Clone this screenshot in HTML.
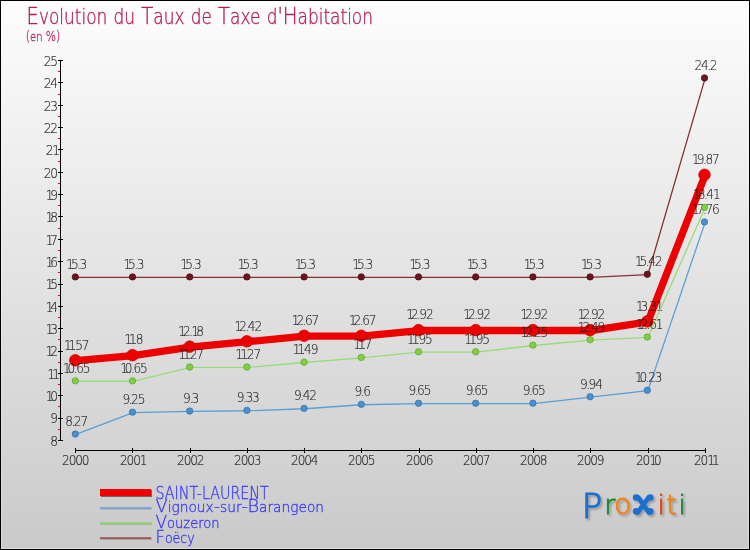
<!DOCTYPE html><html><head><meta charset="utf-8"><title>Evolution du Taux de Taxe d'Habitation</title><style>html,body{margin:0;padding:0;background:#fff}svg{display:block}text{font-family:"DejaVu Sans","Liberation Sans",sans-serif}</style></head><body>
<svg width="750" height="550" viewBox="0 0 750 550">
<defs><linearGradient id="bg" x1="0" y1="0" x2="0" y2="1"><stop offset="0" stop-color="#fdfdfd"/><stop offset="1" stop-color="#cacaca"/></linearGradient></defs>
<rect x="0" y="0" width="750" height="550" fill="#000"/>
<rect x="1" y="1" width="748" height="548" fill="url(#bg)"/>
<rect x="1.5" y="1.5" width="747" height="547" fill="none" stroke="#fff" stroke-opacity="0.3" stroke-width="1"/>
<text x="26.5" y="24" font-size="23.7" font-weight="200" fill="#b5205a" stroke="#b5205a" stroke-width="0.35" textLength="346.5" lengthAdjust="spacingAndGlyphs">E<tspan font-size="20.5">volution</tspan> <tspan font-size="20.5">du</tspan> T<tspan font-size="20.5">aux</tspan> <tspan font-size="20.5">de</tspan> T<tspan font-size="20.5">axe</tspan> <tspan font-size="20.5">d</tspan>&#39;H<tspan font-size="20.5">abitation</tspan></text>
<text x="25.8" y="40.6" font-size="13.5" font-weight="200" fill="#b82060" stroke="#b82060" stroke-width="0.3" textLength="34.5" lengthAdjust="spacingAndGlyphs">(<tspan font-size="12.5">en</tspan> %)</text>
<g shape-rendering="crispEdges">
<rect x="60" y="60" width="1" height="381" fill="#000"/>
<rect x="58" y="440" width="5" height="1" fill="#000"/>
<rect x="58" y="429" width="2" height="1" fill="#f00000"/>
<rect x="58" y="418" width="5" height="1" fill="#000"/>
<rect x="58" y="406" width="2" height="1" fill="#f00000"/>
<rect x="58" y="395" width="5" height="1" fill="#000"/>
<rect x="58" y="384" width="2" height="1" fill="#f00000"/>
<rect x="58" y="373" width="5" height="1" fill="#000"/>
<rect x="58" y="362" width="2" height="1" fill="#f00000"/>
<rect x="58" y="351" width="5" height="1" fill="#000"/>
<rect x="58" y="339" width="2" height="1" fill="#f00000"/>
<rect x="58" y="328" width="5" height="1" fill="#000"/>
<rect x="58" y="317" width="2" height="1" fill="#f00000"/>
<rect x="58" y="306" width="5" height="1" fill="#000"/>
<rect x="58" y="295" width="2" height="1" fill="#f00000"/>
<rect x="58" y="284" width="5" height="1" fill="#000"/>
<rect x="58" y="272" width="2" height="1" fill="#f00000"/>
<rect x="58" y="261" width="5" height="1" fill="#000"/>
<rect x="58" y="250" width="2" height="1" fill="#f00000"/>
<rect x="58" y="239" width="5" height="1" fill="#000"/>
<rect x="58" y="228" width="2" height="1" fill="#f00000"/>
<rect x="58" y="216" width="5" height="1" fill="#000"/>
<rect x="58" y="205" width="2" height="1" fill="#f00000"/>
<rect x="58" y="194" width="5" height="1" fill="#000"/>
<rect x="58" y="183" width="2" height="1" fill="#f00000"/>
<rect x="58" y="172" width="5" height="1" fill="#000"/>
<rect x="58" y="161" width="2" height="1" fill="#f00000"/>
<rect x="58" y="149" width="5" height="1" fill="#000"/>
<rect x="58" y="138" width="2" height="1" fill="#f00000"/>
<rect x="58" y="127" width="5" height="1" fill="#000"/>
<rect x="58" y="116" width="2" height="1" fill="#f00000"/>
<rect x="58" y="105" width="5" height="1" fill="#000"/>
<rect x="58" y="94" width="2" height="1" fill="#f00000"/>
<rect x="58" y="82" width="5" height="1" fill="#000"/>
<rect x="58" y="71" width="2" height="1" fill="#f00000"/>
<rect x="58" y="60" width="5" height="1" fill="#000"/>
<rect x="75" y="450" width="631" height="1" fill="#000"/>
<rect x="75" y="448" width="1" height="5" fill="#000"/>
<rect x="132" y="448" width="1" height="5" fill="#000"/>
<rect x="190" y="448" width="1" height="5" fill="#000"/>
<rect x="247" y="448" width="1" height="5" fill="#000"/>
<rect x="304" y="448" width="1" height="5" fill="#000"/>
<rect x="361" y="448" width="1" height="5" fill="#000"/>
<rect x="419" y="448" width="1" height="5" fill="#000"/>
<rect x="476" y="448" width="1" height="5" fill="#000"/>
<rect x="533" y="448" width="1" height="5" fill="#000"/>
<rect x="590" y="448" width="1" height="5" fill="#000"/>
<rect x="648" y="448" width="1" height="5" fill="#000"/>
<rect x="705" y="448" width="1" height="5" fill="#000"/>
</g>
<text transform="scale(0.92,1)" x="58.91" y="445.9" font-weight="200" font-size="13.2" text-anchor="middle" fill="#1a1a1a" stroke="#1a1a1a" stroke-width="0.15">8</text>
<text transform="scale(0.92,1)" x="58.91" y="423.5" font-weight="200" font-size="13.2" text-anchor="middle" fill="#1a1a1a" stroke="#1a1a1a" stroke-width="0.15">9</text>
<text transform="scale(0.92,1)" x="53.86 58.91" y="401.2" font-weight="200" font-size="13.2" text-anchor="middle" fill="#1a1a1a" stroke="#1a1a1a" stroke-width="0.15">10</text>
<text transform="scale(0.92,1)" x="55.92 61.03" y="378.8" font-weight="200" font-size="13.2" text-anchor="middle" fill="#1a1a1a" stroke="#1a1a1a" stroke-width="0.15">11</text>
<text transform="scale(0.92,1)" x="53.86 58.91" y="356.5" font-weight="200" font-size="13.2" text-anchor="middle" fill="#1a1a1a" stroke="#1a1a1a" stroke-width="0.15">12</text>
<text transform="scale(0.92,1)" x="53.86 58.91" y="334.1" font-weight="200" font-size="13.2" text-anchor="middle" fill="#1a1a1a" stroke="#1a1a1a" stroke-width="0.15">13</text>
<text transform="scale(0.92,1)" x="53.86 58.91" y="311.8" font-weight="200" font-size="13.2" text-anchor="middle" fill="#1a1a1a" stroke="#1a1a1a" stroke-width="0.15">14</text>
<text transform="scale(0.92,1)" x="53.86 58.91" y="289.4" font-weight="200" font-size="13.2" text-anchor="middle" fill="#1a1a1a" stroke="#1a1a1a" stroke-width="0.15">15</text>
<text transform="scale(0.92,1)" x="53.86 58.91" y="267.1" font-weight="200" font-size="13.2" text-anchor="middle" fill="#1a1a1a" stroke="#1a1a1a" stroke-width="0.15">16</text>
<text transform="scale(0.92,1)" x="53.86 58.91" y="244.7" font-weight="200" font-size="13.2" text-anchor="middle" fill="#1a1a1a" stroke="#1a1a1a" stroke-width="0.15">17</text>
<text transform="scale(0.92,1)" x="53.86 58.91" y="222.4" font-weight="200" font-size="13.2" text-anchor="middle" fill="#1a1a1a" stroke="#1a1a1a" stroke-width="0.15">18</text>
<text transform="scale(0.92,1)" x="53.86 58.91" y="200.0" font-weight="200" font-size="13.2" text-anchor="middle" fill="#1a1a1a" stroke="#1a1a1a" stroke-width="0.15">19</text>
<text transform="scale(0.92,1)" x="51.74 58.91" y="177.7" font-weight="200" font-size="13.2" text-anchor="middle" fill="#1a1a1a" stroke="#1a1a1a" stroke-width="0.15">20</text>
<text transform="scale(0.92,1)" x="53.80 61.03" y="155.3" font-weight="200" font-size="13.2" text-anchor="middle" fill="#1a1a1a" stroke="#1a1a1a" stroke-width="0.15">21</text>
<text transform="scale(0.92,1)" x="51.74 58.91" y="133.0" font-weight="200" font-size="13.2" text-anchor="middle" fill="#1a1a1a" stroke="#1a1a1a" stroke-width="0.15">22</text>
<text transform="scale(0.92,1)" x="51.74 58.91" y="110.6" font-weight="200" font-size="13.2" text-anchor="middle" fill="#1a1a1a" stroke="#1a1a1a" stroke-width="0.15">23</text>
<text transform="scale(0.92,1)" x="51.74 58.91" y="88.3" font-weight="200" font-size="13.2" text-anchor="middle" fill="#1a1a1a" stroke="#1a1a1a" stroke-width="0.15">24</text>
<text transform="scale(0.92,1)" x="51.74 58.91" y="65.9" font-weight="200" font-size="13.2" text-anchor="middle" fill="#1a1a1a" stroke="#1a1a1a" stroke-width="0.15">25</text>
<text transform="scale(0.92,1)" x="71.63 78.80 85.98 93.15" y="465.4" font-weight="200" font-size="13.2" text-anchor="middle" fill="#1a1a1a" stroke="#1a1a1a" stroke-width="0.15">2000</text>
<text transform="scale(0.92,1)" x="134.62 141.79 148.97 156.20" y="465.4" font-weight="200" font-size="13.2" text-anchor="middle" fill="#1a1a1a" stroke="#1a1a1a" stroke-width="0.15">2001</text>
<text transform="scale(0.92,1)" x="196.63 203.80 210.98 218.15" y="465.4" font-weight="200" font-size="13.2" text-anchor="middle" fill="#1a1a1a" stroke="#1a1a1a" stroke-width="0.15">2002</text>
<text transform="scale(0.92,1)" x="258.59 265.76 272.93 280.11" y="465.4" font-weight="200" font-size="13.2" text-anchor="middle" fill="#1a1a1a" stroke="#1a1a1a" stroke-width="0.15">2003</text>
<text transform="scale(0.92,1)" x="320.54 327.72 334.89 342.07" y="465.4" font-weight="200" font-size="13.2" text-anchor="middle" fill="#1a1a1a" stroke="#1a1a1a" stroke-width="0.15">2004</text>
<text transform="scale(0.92,1)" x="382.50 389.67 396.85 404.02" y="465.4" font-weight="200" font-size="13.2" text-anchor="middle" fill="#1a1a1a" stroke="#1a1a1a" stroke-width="0.15">2005</text>
<text transform="scale(0.92,1)" x="445.54 452.72 459.89 467.07" y="465.4" font-weight="200" font-size="13.2" text-anchor="middle" fill="#1a1a1a" stroke="#1a1a1a" stroke-width="0.15">2006</text>
<text transform="scale(0.92,1)" x="507.50 514.67 521.85 529.02" y="465.4" font-weight="200" font-size="13.2" text-anchor="middle" fill="#1a1a1a" stroke="#1a1a1a" stroke-width="0.15">2007</text>
<text transform="scale(0.92,1)" x="569.46 576.63 583.80 590.98" y="465.4" font-weight="200" font-size="13.2" text-anchor="middle" fill="#1a1a1a" stroke="#1a1a1a" stroke-width="0.15">2008</text>
<text transform="scale(0.92,1)" x="631.41 638.59 645.76 652.93" y="465.4" font-weight="200" font-size="13.2" text-anchor="middle" fill="#1a1a1a" stroke="#1a1a1a" stroke-width="0.15">2009</text>
<text transform="scale(0.92,1)" x="695.49 702.66 709.89 714.95" y="465.4" font-weight="200" font-size="13.2" text-anchor="middle" fill="#1a1a1a" stroke="#1a1a1a" stroke-width="0.15">2010</text>
<text transform="scale(0.92,1)" x="758.48 765.65 772.88 777.99" y="465.4" font-weight="200" font-size="13.2" text-anchor="middle" fill="#1a1a1a" stroke="#1a1a1a" stroke-width="0.15">2011</text>
<polyline points="75.90,360.70 133.10,355.56 190.30,347.06 247.50,341.70 304.70,336.11 361.90,336.11 419.10,330.52 476.30,330.52 533.50,330.52 590.70,330.52 647.90,321.81 705.10,175.17" fill="none" stroke="#ee0000" stroke-width="7.3" stroke-linejoin="round" stroke-linecap="round"/>
<circle cx="75.30" cy="360.30" r="5.8" fill="#ee0000" stroke="#cc0000" stroke-width="0.7"/>
<circle cx="132.50" cy="355.16" r="5.8" fill="#ee0000" stroke="#cc0000" stroke-width="0.7"/>
<circle cx="189.70" cy="346.66" r="5.8" fill="#ee0000" stroke="#cc0000" stroke-width="0.7"/>
<circle cx="246.90" cy="341.30" r="5.8" fill="#ee0000" stroke="#cc0000" stroke-width="0.7"/>
<circle cx="304.10" cy="335.71" r="5.8" fill="#ee0000" stroke="#cc0000" stroke-width="0.7"/>
<circle cx="361.30" cy="335.71" r="5.8" fill="#ee0000" stroke="#cc0000" stroke-width="0.7"/>
<circle cx="418.50" cy="330.12" r="5.8" fill="#ee0000" stroke="#cc0000" stroke-width="0.7"/>
<circle cx="475.70" cy="330.12" r="5.8" fill="#ee0000" stroke="#cc0000" stroke-width="0.7"/>
<circle cx="532.90" cy="330.12" r="5.8" fill="#ee0000" stroke="#cc0000" stroke-width="0.7"/>
<circle cx="590.10" cy="330.12" r="5.8" fill="#ee0000" stroke="#cc0000" stroke-width="0.7"/>
<circle cx="647.30" cy="321.41" r="5.8" fill="#ee0000" stroke="#cc0000" stroke-width="0.7"/>
<circle cx="704.50" cy="174.77" r="5.8" fill="#ee0000" stroke="#cc0000" stroke-width="0.7"/>
<text transform="scale(0.92,1)" x="73.64 78.75 81.30 85.98 93.15" y="349.6" font-weight="200" font-size="13.2" text-anchor="middle" fill="#1a1a1a" stroke="#1a1a1a" stroke-width="0.12">11.57</text>
<text transform="scale(0.92,1)" x="139.40 144.51 147.07 151.74" y="344.5" font-weight="200" font-size="13.2" text-anchor="middle" fill="#1a1a1a" stroke="#1a1a1a" stroke-width="0.12">11.8</text>
<text transform="scale(0.92,1)" x="197.99 203.04 207.72 212.45 217.50" y="336.0" font-weight="200" font-size="13.2" text-anchor="middle" fill="#1a1a1a" stroke="#1a1a1a" stroke-width="0.12">12.18</text>
<text transform="scale(0.92,1)" x="259.13 264.18 268.86 273.53 280.71" y="330.6" font-weight="200" font-size="13.2" text-anchor="middle" fill="#1a1a1a" stroke="#1a1a1a" stroke-width="0.12">12.42</text>
<text transform="scale(0.92,1)" x="321.30 326.36 331.03 335.71 342.88" y="325.0" font-weight="200" font-size="13.2" text-anchor="middle" fill="#1a1a1a" stroke="#1a1a1a" stroke-width="0.12">12.67</text>
<text transform="scale(0.92,1)" x="383.48 388.53 393.21 397.88 405.05" y="325.0" font-weight="200" font-size="13.2" text-anchor="middle" fill="#1a1a1a" stroke="#1a1a1a" stroke-width="0.12">12.67</text>
<text transform="scale(0.92,1)" x="445.65 450.71 455.38 460.05 467.23" y="319.4" font-weight="200" font-size="13.2" text-anchor="middle" fill="#1a1a1a" stroke="#1a1a1a" stroke-width="0.12">12.92</text>
<text transform="scale(0.92,1)" x="507.83 512.88 517.55 522.23 529.40" y="319.4" font-weight="200" font-size="13.2" text-anchor="middle" fill="#1a1a1a" stroke="#1a1a1a" stroke-width="0.12">12.92</text>
<text transform="scale(0.92,1)" x="570.00 575.05 579.73 584.40 591.58" y="319.4" font-weight="200" font-size="13.2" text-anchor="middle" fill="#1a1a1a" stroke="#1a1a1a" stroke-width="0.12">12.92</text>
<text transform="scale(0.92,1)" x="632.17 637.23 641.90 646.58 653.75" y="319.4" font-weight="200" font-size="13.2" text-anchor="middle" fill="#1a1a1a" stroke="#1a1a1a" stroke-width="0.12">12.92</text>
<text transform="scale(0.92,1)" x="695.38 700.43 705.11 709.78 717.01" y="310.7" font-weight="200" font-size="13.2" text-anchor="middle" fill="#1a1a1a" stroke="#1a1a1a" stroke-width="0.12">13.31</text>
<text transform="scale(0.92,1)" x="756.52 761.58 766.25 770.92 778.10" y="164.1" font-weight="200" font-size="13.2" text-anchor="middle" fill="#1a1a1a" stroke="#1a1a1a" stroke-width="0.12">19.87</text>
<polyline points="75.90,434.46 133.10,412.56 190.30,411.44 247.50,410.77 304.70,408.76 361.90,404.74 419.10,403.62 476.30,403.62 533.50,403.62 590.70,397.14 647.90,390.65 705.10,222.34" fill="none" stroke="#5a9fd4" stroke-width="1.3" stroke-linejoin="round" stroke-linecap="round"/>
<circle cx="75.30" cy="434.06" r="3.2" fill="#4a90d0" stroke="#2f6fa8" stroke-width="0.7"/>
<circle cx="132.50" cy="412.16" r="3.2" fill="#4a90d0" stroke="#2f6fa8" stroke-width="0.7"/>
<circle cx="189.70" cy="411.04" r="3.2" fill="#4a90d0" stroke="#2f6fa8" stroke-width="0.7"/>
<circle cx="246.90" cy="410.37" r="3.2" fill="#4a90d0" stroke="#2f6fa8" stroke-width="0.7"/>
<circle cx="304.10" cy="408.36" r="3.2" fill="#4a90d0" stroke="#2f6fa8" stroke-width="0.7"/>
<circle cx="361.30" cy="404.34" r="3.2" fill="#4a90d0" stroke="#2f6fa8" stroke-width="0.7"/>
<circle cx="418.50" cy="403.22" r="3.2" fill="#4a90d0" stroke="#2f6fa8" stroke-width="0.7"/>
<circle cx="475.70" cy="403.22" r="3.2" fill="#4a90d0" stroke="#2f6fa8" stroke-width="0.7"/>
<circle cx="532.90" cy="403.22" r="3.2" fill="#4a90d0" stroke="#2f6fa8" stroke-width="0.7"/>
<circle cx="590.10" cy="396.74" r="3.2" fill="#4a90d0" stroke="#2f6fa8" stroke-width="0.7"/>
<circle cx="647.30" cy="390.25" r="3.2" fill="#4a90d0" stroke="#2f6fa8" stroke-width="0.7"/>
<circle cx="704.50" cy="221.94" r="3.2" fill="#4a90d0" stroke="#2f6fa8" stroke-width="0.7"/>
<text transform="scale(0.92,1)" x="75.11 79.78 84.46 91.63" y="426.0" font-weight="200" font-size="13.2" text-anchor="middle" fill="#1a1a1a" stroke="#1a1a1a" stroke-width="0.12">8.27</text>
<text transform="scale(0.92,1)" x="137.28 141.96 146.63 153.80" y="404.1" font-weight="200" font-size="13.2" text-anchor="middle" fill="#1a1a1a" stroke="#1a1a1a" stroke-width="0.12">9.25</text>
<text transform="scale(0.92,1)" x="203.04 207.72 212.39" y="402.9" font-weight="200" font-size="13.2" text-anchor="middle" fill="#1a1a1a" stroke="#1a1a1a" stroke-width="0.12">9.3</text>
<text transform="scale(0.92,1)" x="261.63 266.30 270.98 278.15" y="402.3" font-weight="200" font-size="13.2" text-anchor="middle" fill="#1a1a1a" stroke="#1a1a1a" stroke-width="0.12">9.33</text>
<text transform="scale(0.92,1)" x="323.80 328.48 333.15 340.33" y="400.3" font-weight="200" font-size="13.2" text-anchor="middle" fill="#1a1a1a" stroke="#1a1a1a" stroke-width="0.12">9.42</text>
<text transform="scale(0.92,1)" x="389.57 394.24 398.91" y="396.2" font-weight="200" font-size="13.2" text-anchor="middle" fill="#1a1a1a" stroke="#1a1a1a" stroke-width="0.12">9.6</text>
<text transform="scale(0.92,1)" x="448.15 452.83 457.50 464.67" y="395.1" font-weight="200" font-size="13.2" text-anchor="middle" fill="#1a1a1a" stroke="#1a1a1a" stroke-width="0.12">9.65</text>
<text transform="scale(0.92,1)" x="510.33 515.00 519.67 526.85" y="395.1" font-weight="200" font-size="13.2" text-anchor="middle" fill="#1a1a1a" stroke="#1a1a1a" stroke-width="0.12">9.65</text>
<text transform="scale(0.92,1)" x="572.50 577.17 581.85 589.02" y="395.1" font-weight="200" font-size="13.2" text-anchor="middle" fill="#1a1a1a" stroke="#1a1a1a" stroke-width="0.12">9.65</text>
<text transform="scale(0.92,1)" x="634.67 639.35 644.02 651.20" y="388.6" font-weight="200" font-size="13.2" text-anchor="middle" fill="#1a1a1a" stroke="#1a1a1a" stroke-width="0.12">9.94</text>
<text transform="scale(0.92,1)" x="694.35 699.40 704.08 708.75 715.92" y="382.2" font-weight="200" font-size="13.2" text-anchor="middle" fill="#1a1a1a" stroke="#1a1a1a" stroke-width="0.12">10.23</text>
<text transform="scale(0.92,1)" x="756.52 761.58 766.25 770.92 778.10" y="213.8" font-weight="200" font-size="13.2" text-anchor="middle" fill="#1a1a1a" stroke="#1a1a1a" stroke-width="0.12">17.76</text>
<polyline points="75.90,381.26 133.10,381.26 190.30,367.41 247.50,367.41 304.70,362.49 361.90,357.79 419.10,352.21 476.30,352.21 533.50,345.50 590.70,340.14 647.90,337.45 705.10,207.81" fill="none" stroke="#98dc78" stroke-width="1.3" stroke-linejoin="round" stroke-linecap="round"/>
<circle cx="75.30" cy="380.86" r="3.2" fill="#80d040" stroke="#5aa030" stroke-width="0.7"/>
<circle cx="132.50" cy="380.86" r="3.2" fill="#80d040" stroke="#5aa030" stroke-width="0.7"/>
<circle cx="189.70" cy="367.01" r="3.2" fill="#80d040" stroke="#5aa030" stroke-width="0.7"/>
<circle cx="246.90" cy="367.01" r="3.2" fill="#80d040" stroke="#5aa030" stroke-width="0.7"/>
<circle cx="304.10" cy="362.09" r="3.2" fill="#80d040" stroke="#5aa030" stroke-width="0.7"/>
<circle cx="361.30" cy="357.39" r="3.2" fill="#80d040" stroke="#5aa030" stroke-width="0.7"/>
<circle cx="418.50" cy="351.81" r="3.2" fill="#80d040" stroke="#5aa030" stroke-width="0.7"/>
<circle cx="475.70" cy="351.81" r="3.2" fill="#80d040" stroke="#5aa030" stroke-width="0.7"/>
<circle cx="532.90" cy="345.10" r="3.2" fill="#80d040" stroke="#5aa030" stroke-width="0.7"/>
<circle cx="590.10" cy="339.74" r="3.2" fill="#80d040" stroke="#5aa030" stroke-width="0.7"/>
<circle cx="647.30" cy="337.05" r="3.2" fill="#80d040" stroke="#5aa030" stroke-width="0.7"/>
<circle cx="704.50" cy="207.41" r="3.2" fill="#80d040" stroke="#5aa030" stroke-width="0.7"/>
<text transform="scale(0.92,1)" x="72.61 77.66 82.34 87.01 94.18" y="372.8" font-weight="200" font-size="13.2" text-anchor="middle" fill="#1a1a1a" stroke="#1a1a1a" stroke-width="0.12">10.65</text>
<text transform="scale(0.92,1)" x="134.78 139.84 144.51 149.18 156.36" y="372.8" font-weight="200" font-size="13.2" text-anchor="middle" fill="#1a1a1a" stroke="#1a1a1a" stroke-width="0.12">10.65</text>
<text transform="scale(0.92,1)" x="197.99 203.10 205.65 210.33 217.50" y="358.9" font-weight="200" font-size="13.2" text-anchor="middle" fill="#1a1a1a" stroke="#1a1a1a" stroke-width="0.12">11.27</text>
<text transform="scale(0.92,1)" x="260.16 265.27 267.83 272.50 279.67" y="358.9" font-weight="200" font-size="13.2" text-anchor="middle" fill="#1a1a1a" stroke="#1a1a1a" stroke-width="0.12">11.27</text>
<text transform="scale(0.92,1)" x="322.34 327.45 330.00 334.67 341.85" y="354.0" font-weight="200" font-size="13.2" text-anchor="middle" fill="#1a1a1a" stroke="#1a1a1a" stroke-width="0.12">11.49</text>
<text transform="scale(0.92,1)" x="388.10 393.21 395.76 400.43" y="349.3" font-weight="200" font-size="13.2" text-anchor="middle" fill="#1a1a1a" stroke="#1a1a1a" stroke-width="0.12">11.7</text>
<text transform="scale(0.92,1)" x="446.68 451.79 454.35 459.02 466.20" y="343.7" font-weight="200" font-size="13.2" text-anchor="middle" fill="#1a1a1a" stroke="#1a1a1a" stroke-width="0.12">11.95</text>
<text transform="scale(0.92,1)" x="508.86 513.97 516.52 521.20 528.37" y="343.7" font-weight="200" font-size="13.2" text-anchor="middle" fill="#1a1a1a" stroke="#1a1a1a" stroke-width="0.12">11.95</text>
<text transform="scale(0.92,1)" x="570.00 575.05 579.73 584.40 591.58" y="337.0" font-weight="200" font-size="13.2" text-anchor="middle" fill="#1a1a1a" stroke="#1a1a1a" stroke-width="0.12">12.25</text>
<text transform="scale(0.92,1)" x="632.17 637.23 641.90 646.58 653.75" y="331.6" font-weight="200" font-size="13.2" text-anchor="middle" fill="#1a1a1a" stroke="#1a1a1a" stroke-width="0.12">12.49</text>
<text transform="scale(0.92,1)" x="695.38 700.43 705.11 709.78 717.01" y="329.0" font-weight="200" font-size="13.2" text-anchor="middle" fill="#1a1a1a" stroke="#1a1a1a" stroke-width="0.12">12.61</text>
<text transform="scale(0.92,1)" x="757.55 762.61 767.28 771.96 779.18" y="199.3" font-weight="200" font-size="13.2" text-anchor="middle" fill="#1a1a1a" stroke="#1a1a1a" stroke-width="0.12">18.41</text>
<polyline points="75.90,277.32 133.10,277.32 190.30,277.32 247.50,277.32 304.70,277.32 361.90,277.32 419.10,277.32 476.30,277.32 533.50,277.32 590.70,277.32 647.90,274.64 705.10,78.38" fill="none" stroke="#843232" stroke-width="1.3" stroke-linejoin="round" stroke-linecap="round"/>
<circle cx="75.30" cy="276.92" r="3.2" fill="#6b1520" stroke="#4a0c10" stroke-width="0.7"/>
<circle cx="132.50" cy="276.92" r="3.2" fill="#6b1520" stroke="#4a0c10" stroke-width="0.7"/>
<circle cx="189.70" cy="276.92" r="3.2" fill="#6b1520" stroke="#4a0c10" stroke-width="0.7"/>
<circle cx="246.90" cy="276.92" r="3.2" fill="#6b1520" stroke="#4a0c10" stroke-width="0.7"/>
<circle cx="304.10" cy="276.92" r="3.2" fill="#6b1520" stroke="#4a0c10" stroke-width="0.7"/>
<circle cx="361.30" cy="276.92" r="3.2" fill="#6b1520" stroke="#4a0c10" stroke-width="0.7"/>
<circle cx="418.50" cy="276.92" r="3.2" fill="#6b1520" stroke="#4a0c10" stroke-width="0.7"/>
<circle cx="475.70" cy="276.92" r="3.2" fill="#6b1520" stroke="#4a0c10" stroke-width="0.7"/>
<circle cx="532.90" cy="276.92" r="3.2" fill="#6b1520" stroke="#4a0c10" stroke-width="0.7"/>
<circle cx="590.10" cy="276.92" r="3.2" fill="#6b1520" stroke="#4a0c10" stroke-width="0.7"/>
<circle cx="647.30" cy="274.24" r="3.2" fill="#6b1520" stroke="#4a0c10" stroke-width="0.7"/>
<circle cx="704.50" cy="77.98" r="3.2" fill="#6b1520" stroke="#4a0c10" stroke-width="0.7"/>
<text transform="scale(0.92,1)" x="76.20 81.25 85.92 90.60" y="268.8" font-weight="200" font-size="13.2" text-anchor="middle" fill="#1a1a1a" stroke="#1a1a1a" stroke-width="0.12">15.3</text>
<text transform="scale(0.92,1)" x="138.37 143.42 148.10 152.77" y="268.8" font-weight="200" font-size="13.2" text-anchor="middle" fill="#1a1a1a" stroke="#1a1a1a" stroke-width="0.12">15.3</text>
<text transform="scale(0.92,1)" x="200.54 205.60 210.27 214.95" y="268.8" font-weight="200" font-size="13.2" text-anchor="middle" fill="#1a1a1a" stroke="#1a1a1a" stroke-width="0.12">15.3</text>
<text transform="scale(0.92,1)" x="262.72 267.77 272.45 277.12" y="268.8" font-weight="200" font-size="13.2" text-anchor="middle" fill="#1a1a1a" stroke="#1a1a1a" stroke-width="0.12">15.3</text>
<text transform="scale(0.92,1)" x="324.89 329.95 334.62 339.29" y="268.8" font-weight="200" font-size="13.2" text-anchor="middle" fill="#1a1a1a" stroke="#1a1a1a" stroke-width="0.12">15.3</text>
<text transform="scale(0.92,1)" x="387.07 392.12 396.79 401.47" y="268.8" font-weight="200" font-size="13.2" text-anchor="middle" fill="#1a1a1a" stroke="#1a1a1a" stroke-width="0.12">15.3</text>
<text transform="scale(0.92,1)" x="449.24 454.29 458.97 463.64" y="268.8" font-weight="200" font-size="13.2" text-anchor="middle" fill="#1a1a1a" stroke="#1a1a1a" stroke-width="0.12">15.3</text>
<text transform="scale(0.92,1)" x="511.41 516.47 521.14 525.82" y="268.8" font-weight="200" font-size="13.2" text-anchor="middle" fill="#1a1a1a" stroke="#1a1a1a" stroke-width="0.12">15.3</text>
<text transform="scale(0.92,1)" x="573.59 578.64 583.32 587.99" y="268.8" font-weight="200" font-size="13.2" text-anchor="middle" fill="#1a1a1a" stroke="#1a1a1a" stroke-width="0.12">15.3</text>
<text transform="scale(0.92,1)" x="635.76 640.82 645.49 650.16" y="268.8" font-weight="200" font-size="13.2" text-anchor="middle" fill="#1a1a1a" stroke="#1a1a1a" stroke-width="0.12">15.3</text>
<text transform="scale(0.92,1)" x="694.35 699.40 704.08 708.75 715.92" y="266.1" font-weight="200" font-size="13.2" text-anchor="middle" fill="#1a1a1a" stroke="#1a1a1a" stroke-width="0.12">15.42</text>
<text transform="scale(0.92,1)" x="759.02 766.20 770.87 775.54" y="69.9" font-weight="200" font-size="13.2" text-anchor="middle" fill="#1a1a1a" stroke="#1a1a1a" stroke-width="0.12">24.2</text>
<rect x="101" y="490" width="51" height="7" fill="#666"/>
<rect x="100" y="489" width="51" height="7" fill="#ee0000"/>
<text x="155.5" y="498.5" font-size="17.5" font-weight="200" fill="#3838ff" stroke="#3838ff" stroke-width="0.3" textLength="113.2" lengthAdjust="spacingAndGlyphs">SAINT-LAURENT</text>
<rect x="101" y="507.6" width="51" height="2" fill="#aaa"/>
<rect x="100" y="507.1" width="51" height="2" fill="#76a9d0"/>
<text x="155.5" y="512.4" font-size="17.5" font-weight="200" fill="#3838ff" stroke="#3838ff" stroke-width="0.3" textLength="168.5" lengthAdjust="spacingAndGlyphs">V<tspan font-size="13.5">ignoux</tspan>-<tspan font-size="13.5">sur</tspan>-B<tspan font-size="13.5">arangeon</tspan></text>
<rect x="101" y="522.8" width="51" height="2" fill="#aaa"/>
<rect x="100" y="522.3" width="51" height="2" fill="#90d070"/>
<text x="155.5" y="527.8" font-size="17.5" font-weight="200" fill="#3838ff" stroke="#3838ff" stroke-width="0.3" textLength="64.1" lengthAdjust="spacingAndGlyphs">V<tspan font-size="13.5">ouzeron</tspan></text>
<rect x="101" y="537.7" width="51" height="2" fill="#aaa"/>
<rect x="100" y="537.2" width="51" height="2" fill="#9a5a5a"/>
<text x="155.5" y="542.7" font-size="17.5" font-weight="200" fill="#3838ff" stroke="#3838ff" stroke-width="0.3" textLength="39.2" lengthAdjust="spacingAndGlyphs">F<tspan font-size="13.5">oëcy</tspan></text>
<defs><filter id="sh" x="-20%" y="-20%" width="140%" height="140%"><feGaussianBlur stdDeviation="0.9"/></filter></defs>
<g font-family="DejaVu Sans" text-anchor="middle" font-weight="200" stroke-linejoin="round">
<text filter="url(#sh)"><tspan x="593.8" y="519.8" font-size="34" fill="#999" stroke="#999" stroke-width="1.2">P</tspan><tspan x="611.6" y="515.8" font-size="27" fill="#999" stroke="#999" stroke-width="0.9">r</tspan><tspan x="624.4" y="515.8" font-size="28.5" fill="#999" stroke="#999" stroke-width="0.9">o</tspan><tspan x="645.0" y="514.6" font-size="28" fill="#999" stroke="#999" stroke-width="3.4">x</tspan><tspan x="663.0" y="516.0" font-size="27" fill="#999" stroke="#999" stroke-width="0.9">i</tspan><tspan x="673.3" y="515.8" font-size="27" fill="#999" stroke="#999" stroke-width="0.9">t</tspan><tspan x="684.0" y="516.0" font-size="27" fill="#999" stroke="#999" stroke-width="0.9">i</tspan></text>
<circle cx="637.9" cy="499.3" r="3.3" fill="#999" filter="url(#sh)"/>
<circle cx="652.0" cy="499.3" r="3.3" fill="#999" filter="url(#sh)"/>
<circle cx="637.9" cy="513.0" r="3.3" fill="#999" filter="url(#sh)"/>
<circle cx="652.0" cy="513.0" r="3.3" fill="#999" filter="url(#sh)"/>
<text><tspan x="592.0" y="518.0" font-size="34" fill="#1a6fd0" stroke="#1a6fd0" stroke-width="1.2">P</tspan><tspan x="609.8" y="514.0" font-size="27" fill="#1e8a3a" stroke="#1e8a3a" stroke-width="0.9">r</tspan><tspan x="622.6" y="514.0" font-size="28.5" fill="#f5820f" stroke="#f5820f" stroke-width="0.9">o</tspan><tspan x="643.2" y="512.8" font-size="28" fill="#1a6fd0" stroke="#1a6fd0" stroke-width="3.4">x</tspan><tspan x="661.2" y="514.2" font-size="27" fill="#e8401a" stroke="#e8401a" stroke-width="0.9">i</tspan><tspan x="671.5" y="514.0" font-size="27" fill="#f5820f" stroke="#f5820f" stroke-width="0.9">t</tspan><tspan x="682.2" y="514.2" font-size="27" fill="#1e8a3a" stroke="#1e8a3a" stroke-width="0.9">i</tspan></text>
<circle cx="636.1" cy="497.5" r="3.3" fill="#1a6fd0"/>
<circle cx="650.2" cy="497.5" r="3.3" fill="#1a6fd0"/>
<circle cx="636.1" cy="511.2" r="3.3" fill="#1a6fd0"/>
<circle cx="650.2" cy="511.2" r="3.3" fill="#1a6fd0"/>
</g>
</svg></body></html>
